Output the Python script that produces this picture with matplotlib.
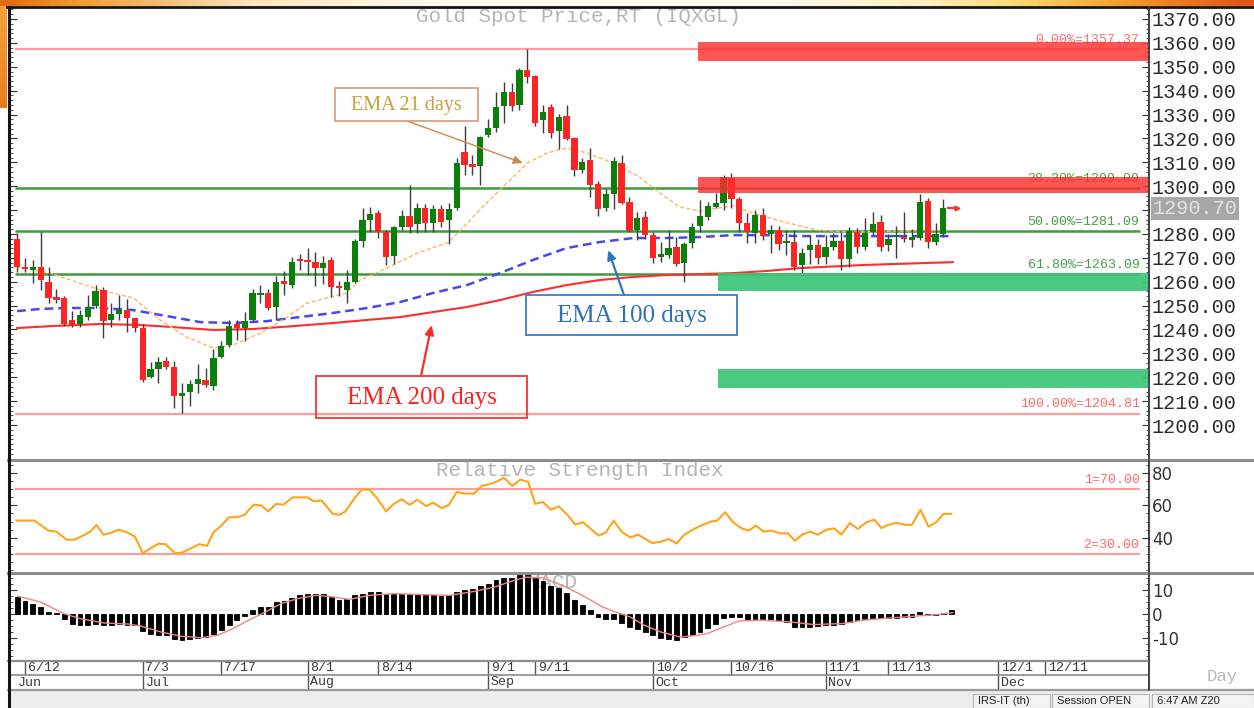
import numpy as np
import matplotlib
matplotlib.use("Agg")
import matplotlib.pyplot as plt
from matplotlib.patches import Rectangle
from matplotlib.lines import Line2D
from matplotlib.colors import LinearSegmentedColormap
from matplotlib import ticker, transforms

plt.rcParams['font.family'] = ['DejaVu Sans']
MONO = 'Liberation Mono'
SERIF = 'Liberation Serif'
SANS = 'Liberation Sans'

# ---------------- data (trading-day index, 6/12 = 0) ----------------
day_index = list(range(-1, 118))
opens = [1278, 1266, 1265, 1266, 1260, 1253.5, 1253.3, 1244, 1242.3, 1245.3,
         1250, 1256.5, 1244, 1246.4, 1248.2, 1244.7, 1240.5, 1220, 1223.4, 1226.8,
         1224.4, 1212, 1214, 1217, 1218.8, 1216.3, 1228.3, 1233.5, 1242.2, 1240.5,
         1243.9, 1254.5, 1255.1, 1249.5, 1260.3, 1258.6, 1269.4, 1268.8, 1268.4, 1265.6,
         1269, 1258.2, 1256.5, 1260, 1277.2, 1286, 1288.6, 1280.7, 1270.8, 1283,
         1287.5, 1284.2, 1291, 1284.4, 1290.3, 1285.8, 1290.7, 1314.4, 1309.3, 1308.4,
         1321.4, 1324.2, 1333.6, 1339.6, 1334, 1348.6, 1346, 1327.7, 1333, 1323.2,
         1329.4, 1320, 1306.8, 1311, 1301, 1290.7, 1296.7, 1309.8, 1293.5, 1281.6,
         1287, 1279.6, 1270.2, 1271.2, 1274.4, 1268, 1276.3, 1283.3, 1287.2, 1291.4,
         1292.8, 1303.3, 1294.5, 1284.4, 1280.3, 1288, 1280, 1281.6, 1276.1, 1276.7,
         1267, 1273.3, 1275.4, 1270.5, 1274.7, 1277, 1269.5, 1281, 1274.7, 1281,
         1284.9, 1275.4, 1278.8, 1278.8, 1277.5, 1278.2, 1293.8, 1276.5, 1279.8]
highs = [1280.4, 1270, 1269, 1281, 1266, 1257, 1254, 1247.7, 1248, 1254.5,
         1258.5, 1258, 1251, 1254.4, 1252.7, 1245, 1242.5, 1226.5, 1228.6, 1228.5,
         1227, 1217.5, 1219, 1225.5, 1224, 1232, 1235, 1244, 1244, 1247.4,
         1257, 1258.6, 1257, 1262.4, 1264.6, 1270.5, 1271.6, 1274, 1272.6, 1270.6,
         1270.2, 1260.3, 1265, 1278, 1291, 1291.4, 1290, 1281.6, 1283.5, 1290,
         1300.5, 1292.8, 1292.5, 1292, 1292, 1293, 1312, 1325.2, 1313, 1321,
         1328, 1339.6, 1343.7, 1343, 1349.4, 1357.37, 1346.5, 1334, 1334.4, 1330.2,
         1334, 1320.5, 1311.7, 1315.8, 1302, 1298.7, 1312.3, 1313, 1295.6, 1289.3,
         1289.6, 1281, 1276.7, 1281.6, 1278.6, 1276.5, 1284.5, 1294.2, 1293.5, 1297,
         1304.5, 1305.6, 1295.3, 1288.6, 1290, 1291, 1283.7, 1283.3, 1281.6, 1281.5,
         1274, 1279.5, 1277.7, 1279.5, 1280.4, 1281, 1283, 1282.5, 1286.5, 1289.3,
         1288, 1280, 1283.4, 1289, 1282, 1296.6, 1295, 1284.5, 1294.6]
lows = [1264.2, 1264, 1259.5, 1256.5, 1251, 1251, 1241.5, 1241, 1241, 1244,
        1249, 1236.5, 1241, 1244, 1239, 1239, 1218, 1219.5, 1217.6, 1223.5,
        1207, 1205, 1208, 1213.5, 1216, 1214.6, 1228, 1232.8, 1235.6, 1235,
        1243, 1251, 1248, 1244, 1254.4, 1257.2, 1265, 1262.8, 1258.2, 1259,
        1253.5, 1253.9, 1251, 1259.5, 1274.7, 1281, 1278.2, 1267, 1267.5, 1281.6,
        1280.3, 1280.5, 1281, 1281, 1283, 1276, 1290, 1304.7, 1304.7, 1300.5,
        1320.5, 1322.8, 1326.3, 1331.6, 1331.9, 1343, 1325, 1322.4, 1320.3, 1315.4,
        1319.3, 1304.3, 1305.4, 1295.6, 1287.5, 1289.7, 1290.3, 1292.5, 1280.9, 1277.5,
        1278, 1268, 1268.4, 1269.8, 1266.6, 1260, 1274, 1281, 1285.8, 1290.7,
        1290, 1290.7, 1281, 1276.3, 1276.3, 1277.5, 1272, 1273.3, 1271.2, 1265,
        1263.5, 1267.3, 1267.3, 1267.3, 1273.3, 1265, 1266, 1272, 1273.3, 1279.5,
        1273, 1273, 1269.8, 1276.7, 1274.7, 1277.5, 1274.2, 1275.5, 1278.8]
closes = [1266, 1265.5, 1266.3, 1260.7, 1253.3, 1252.5, 1242.5, 1242, 1246, 1249.5,
          1256, 1243.5, 1246.5, 1248.2, 1244.7, 1240.5, 1219, 1223.5, 1226.5, 1224.4,
          1212, 1213.3, 1217, 1219.3, 1216.7, 1228, 1233.2, 1241.4, 1240.5, 1243.7,
          1255.1, 1255, 1248.8, 1260, 1258.9, 1268.4, 1268.8, 1268.3, 1265.6, 1267.7,
          1257.9, 1257.3, 1260, 1277.2, 1285.8, 1288.3, 1281, 1270.5, 1282.8, 1287.5,
          1283, 1290.7, 1284.4, 1290.3, 1285.1, 1290.3, 1309.6, 1309, 1308.2, 1320.4,
          1324.2, 1333.3, 1339.6, 1333.6, 1348.6, 1345.8, 1326.6, 1331.2, 1322.1, 1329.1,
          1319.6, 1306.8, 1310.2, 1300.5, 1290.3, 1296.7, 1310.7, 1292.8, 1281.4, 1286.5,
          1279.6, 1269.8, 1271.6, 1274, 1267.4, 1275.8, 1283, 1287.5, 1291.5, 1293.1,
          1304, 1294.5, 1284.7, 1281, 1288, 1279.1, 1281.6, 1275.8, 1277.2, 1266,
          1272, 1275.4, 1270.1, 1274.7, 1277, 1269.5, 1281.2, 1274.7, 1280.3, 1284,
          1274.7, 1277.9, 1279.5, 1277.9, 1278.8, 1293.5, 1276.5, 1279.8, 1290.7]
last_price = 1290.70

ema21_x = [-1, 3.2, 9.6, 13.8, 17.2, 20.6, 24.0, 26.5, 30.0, 33.4, 35.9, 38.9, 41.0, 42.7,
           45.6, 50.0, 54.0, 58.3, 61.8, 64.0, 66.5, 69.0, 71.6, 74.9, 78.3, 80.9, 83.4,
           86.0, 88.5, 90.2, 92.7, 95.8, 100.9, 105.0, 117.8]
ema21_y = [1266.1, 1263.6, 1256.5, 1253.2, 1244.0, 1236.8, 1232.2, 1233.5, 1238.5, 1245.2,
           1251.0, 1253.6, 1255.3, 1260.7, 1264.9, 1272.0, 1276.6, 1291.3, 1302.6, 1309.7,
           1313.9, 1316.0, 1313.9, 1309.7, 1303.8, 1297.1, 1291.3, 1289.6, 1290.9, 1291.7,
           1288.8, 1285.8, 1281.6, 1280.8, 1281.6]
ema100_x = [-1, 1.9, 5.4, 9.6, 13.8, 18.1, 22.3, 26.5, 30.8, 35.0, 39.2, 43.6, 47.8, 52.0,
            56.3, 60.5, 64.7, 69.0, 73.2, 77.5, 81.8, 86.0, 90.2, 94.5, 98.7, 117.8]
ema100_y = [1247.7, 1248.6, 1249.0, 1249.0, 1248.1, 1245.6, 1243.1, 1242.7, 1243.5, 1245.2,
            1246.9, 1249.0, 1251.5, 1255.3, 1258.6, 1263.6, 1269.1, 1274.1, 1276.6, 1278.3,
            1278.3, 1278.7, 1279.5, 1279.5, 1279.1, 1279.1]
ema200_x = [-1, 3.2, 9.6, 14.6, 18.9, 24.0, 29.0, 34.1, 39.2, 43.6, 47.8, 52.0, 56.3, 60.5,
            64.7, 69.0, 73.2, 77.5, 81.8, 86.0, 90.2, 94.5, 98.7, 106.8, 118.2]
ema200_y = [1240.6, 1241.4, 1242.3, 1241.9, 1241.0, 1239.8, 1240.2, 1241.4, 1242.7, 1244.0,
            1245.2, 1247.3, 1249.4, 1252.3, 1255.7, 1258.6, 1260.7, 1262.0, 1262.8, 1263.2,
            1263.6, 1264.5, 1265.7, 1267.0, 1268.2]

fib_levels = [1357.37, 1299.09, 1281.09, 1263.09, 1204.81]
fib_labels = ["0.00%=1357.37", "38.20%=1299.09", "50.00%=1281.09", "61.80%=1263.09", "100.00%=1204.81"]
fib_kind = ["red", "green", "green", "green", "red"]

red_zones = [(1352.6, 1360.3), (1297.1, 1304.0)]
green_zones = [(1256.1, 1263.6), (1215.7, 1223.6)]

rsi_x = [-1.1, 1.2, 3.0, 4.0, 5.3, 6.3, 7.8, 8.3, 9.1, 10.0, 10.9, 11.9, 13.0, 14.0, 15.0, 16.0,
         17.0, 17.9, 19.1, 20.0, 21.1, 22.2, 23.2, 24.0, 25.0, 26.0, 27.0, 28.0, 29.1, 30.1,
         31.0, 32.0, 32.9, 34.1, 36.0, 36.8, 37.8, 39.2, 40.1, 40.8, 42.1, 42.9, 43.9, 44.9,
         46.0, 47.0, 48.0, 49.0, 50.0, 51.1, 52.0, 53.1, 54.0, 55.0, 56.1, 57.2, 58.2, 59.0,
         60.0, 61.0, 62.1, 63.1, 64.1, 65.0, 66.0, 67.0, 68.0, 69.1, 70.1, 71.1, 72.2, 73.1,
         74.0, 75.0, 76.0, 77.1, 78.1, 79.9, 81.0, 82.0, 83.0, 84.0, 85.1, 86.1, 87.4, 88.2,
         89.2, 90.2, 91.3, 92.2, 93.1, 94.1, 95.1, 96.2, 97.2, 98.1, 99.0, 100.0, 101.0, 102.1,
         103.1, 104.0, 105.1, 106.1, 107.2, 108.2, 109.1, 110.0, 111.0, 112.1, 113.0, 114.1,
         115.1, 116.1, 117.0, 118.0]
rsi_y = [50.6, 50.6, 44.4, 43.8, 38.8, 38.8, 42.3, 43.8, 47.9, 41.9, 42.9, 45.0, 43.3, 40.8,
         30.4, 33.5, 36.3, 36.0, 30.4, 30.8, 33.3, 36.0, 35.0, 43.3, 47.5, 52.7, 52.7, 54.2,
         60.4, 60.0, 56.3, 61.0, 60.4, 65.0, 65.0, 62.5, 63.1, 54.8, 54.2, 56.3, 65.2, 69.8,
         69.8, 64.2, 56.3, 61.0, 63.8, 60.4, 63.5, 59.6, 61.7, 58.3, 60.4, 68.3, 67.3, 67.3,
         72.1, 72.9, 74.6, 77.1, 72.1, 76.0, 74.6, 61.0, 62.1, 57.3, 59.4, 54.2, 48.1, 49.6,
         45.0, 41.3, 43.3, 50.6, 43.8, 40.2, 41.9, 36.7, 37.5, 39.2, 36.5, 41.9, 45.0, 47.5,
         50.0, 50.6, 55.8, 49.6, 45.8, 44.4, 47.5, 43.8, 44.4, 42.7, 42.7, 38.1, 41.9, 43.8,
         41.9, 45.0, 45.8, 41.9, 49.1, 45.4, 49.6, 51.2, 46.0, 48.0, 49.2, 48.0, 48.0, 57.3,
         46.9, 49.6, 54.8, 54.8]
rsi_levels = [70, 30]
rsi_level_labels = ["1=70.00", "2=30.00"]

macd_index = list(range(-1, 119))
macd_hist = [7.1, 5.3, 4.3, 2.9, 0.8, 0.3, -1.9, -4.0, -4.7, -4.7,
             -4.0, -4.7, -4.7, -4.0, -4.4, -4.7, -7.2, -8.2, -8.6, -8.9,
             -10.3, -10.7, -10.6, -10.0, -9.6, -8.2, -6.8, -4.4, -2.6, -1.0,
             1.5, 2.9, 2.9, 5.0, 5.4, 6.7, 7.8, 8.3, 8.3, 8.3,
             7.1, 5.7, 6.1, 7.8, 8.5, 9.2, 9.2, 8.5, 8.5, 8.5,
             8.5, 8.5, 8.5, 8.1, 7.5, 7.8, 9.2, 9.9, 10.6, 11.7,
             12.6, 14.0, 15.1, 15.1, 16.4, 16.4, 15.0, 13.6, 11.7, 10.8,
             8.75, 5.7, 3.6, 1.5, -1.25, -1.9, -1.9, -3.6, -5.4, -6.4,
             -7.5, -8.9, -10.0, -10.3, -10.7, -9.6, -8.9, -7.5, -5.8, -4.0,
             -1.7, -1.25, -1.25, -2.2, -2.2, -2.2, -2.2, -2.6, -3.3, -5.4,
             -5.4, -5.4, -5.0, -4.7, -4.4, -4.0, -3.3, -2.6, -1.9, -1.5,
             -1.5, -1.5, -1.5, -1.25, -1.1, 0.8, -0.3, -0.3, 0.6, 1.5]
signal_x = [-0.9, 2.0, 5.0, 7.0, 10.1, 13.2, 14.7, 17.3, 19.9, 22.4, 24.5, 26.5, 28.5, 30.6,
            32.6, 34.7, 37.2, 39.3, 41.3, 43.9, 47.0, 50.6, 54.1, 57.2, 59.8, 62.3, 63.9, 66.0,
            68.5, 71.0, 73.6, 75.6, 77.1, 78.9, 81.0, 83.5, 84.8, 86.9, 89.0, 91.0, 93.8, 97.4,
            100.5, 104.1, 106.7, 111.9, 116.0, 118.2]
signal_y = [7.4, 5.0, 0.1, -1.9, -3.75, -4.2, -5.0, -7.5, -9.3, -9.9, -8.9, -6.1, -2.6, 0.8,
            4.3, 6.4, 7.8, 7.1, 6.1, 7.8, 8.5, 8.1, 7.8, 9.4, 11.25, 14.0, 15.4, 15.0,
            11.9, 7.8, 2.9, 0.4, -1.25, -4.7, -7.5, -9.6, -9.2, -8.2, -5.4, -2.9, -2.6, -3.3,
            -4.4, -4.0, -2.6, -1.25, -0.3, 0.6]

date_ticks = [0, 15, 25, 36, 45, 59, 65, 80, 90, 102, 110, 124, 130]
date_labels = ["6/12", "7/3", "7/17", "8/1", "8/14", "9/1", "9/11", "10/2", "10/16",
               "11/1", "11/13", "12/1", "12/11"]
month_ticks = [-1.2, 15, 36, 59, 80, 102, 124]
month_labels = ["Jun", "Jul", "Aug", "Sep", "Oct", "Nov", "Dec"]

price_ticks = list(range(1200, 1371, 10))

# ---------------- layout helpers ----------------
W, H = 1254, 708
fig = plt.figure(figsize=(W / 100, H / 100), dpi=100, facecolor='white')


def fx(x):
    return x / W


def fy(y):
    return 1 - y / H


def add_ax(x0, y0, x1, y1):
    return fig.add_axes([fx(x0), fy(y1), fx(x1) - fx(x0), fy(y0) - fy(y1)])


XLIM = (-1.91, 143.2)
ax = add_ax(10, 8, 1149, 458)
ax_rsi = add_ax(10, 461, 1149, 571)
ax_macd = add_ax(10, 574, 1149, 660)
ax_date = add_ax(10, 660, 1149, 690)

for a in (ax, ax_rsi, ax_macd, ax_date):
    a.set_xlim(*XLIM)
    a.set_xticks([])
    for s in ('top', 'bottom', 'left'):
        a.spines[s].set_visible(False)
    a.spines['right'].set_color('#404040')
    a.spines['right'].set_linewidth(1.2)
    a.set_facecolor('white')

# ---------------- main price panel ----------------
ax.set_ylim(1186.2, 1374.6)
ax.set_yticks(price_ticks)
ax.set_yticklabels(['' if v == 1290 else f"{v:.2f}" for v in price_ticks])
ax.yaxis.set_minor_locator(ticker.MultipleLocator(2))
ax.tick_params(axis='y', which='both', direction='in', left=True, right=True,
               labelleft=False, labelright=True, colors='#333333', pad=2)
ax.tick_params(axis='y', which='major', length=5)
ax.tick_params(axis='y', which='minor', length=2.5)
for lab in ax.get_yticklabels():
    lab.set_family(MONO)
    lab.set_fontsize(14.5)
    lab.set_color('#2b2b2b')

# fib lines
for lvl, lbl, kind in zip(fib_levels, fib_labels, fib_kind):
    col = '#ff9c9c' if kind == 'red' else '#3e9a3e'
    tcol = '#ff6a6a' if kind == 'red' else '#4a9e4a'
    ax.hlines(lvl, -1.3, 142.0, color=col, lw=1.6 if kind == 'red' else 1.8, zorder=2)
    ax.annotate(lbl, xy=(142.0, lvl), xytext=(0, 2.2), textcoords='offset points',
                ha='right', va='bottom', family=MONO, fontsize=9.5, color=tcol, zorder=2)

# EMA lines
ax.plot(ema200_x, ema200_y, color='#ff2d2d', lw=1.5, zorder=2)
ax.plot(ema100_x, ema100_y, color='#4848f0', lw=1.8, dashes=(3.5, 2), zorder=2)
ax.plot(ema21_x, ema21_y, color='#fcb868', lw=1.0, dashes=(3, 1.6), zorder=2)

# candles
o = np.array(opens); h = np.array(highs); l = np.array(lows); c = np.array(closes)
xi = np.array(day_index)
ax.vlines(xi, l, h, color='#3c3c3c', lw=1.0, zorder=3)
up = c >= o
body_bottom = np.minimum(o, c)
body_h = np.maximum(np.abs(c - o), 0.6)
ax.bar(xi, body_h, bottom=body_bottom, width=0.8,
       color=np.where(up, '#0a7f0a', '#ff2424'), linewidth=0, zorder=4)

# last price marker
ax.plot([117.6, 118.5], [last_price, last_price], color='#ff3030', lw=1.6, zorder=4)
ax.plot([118.7], [last_price], marker='>', ms=3.5, color='#ff3030', zorder=4)
trans = transforms.blended_transform_factory(ax.transAxes, ax.transData)
ax.text(1.0 + 4 / 1139, last_price, f"{last_price:.2f}", transform=trans, ha='left', va='center',
        family=MONO, fontsize=14.5, color='#e4e4e4', clip_on=False,
        bbox=dict(boxstyle='square,pad=0.08', fc='#a7a7a7', ec='none'))

# supply / demand zones
for lo_, hi_ in red_zones:
    ax.add_patch(Rectangle((85.7, lo_), XLIM[1] - 85.7, hi_ - lo_, fc='#ff2f2f', ec='none',
                           alpha=0.82, zorder=5))
for lo_, hi_ in green_zones:
    ax.add_patch(Rectangle((88.3, lo_), XLIM[1] - 88.3, hi_ - lo_, fc='#3cc477', ec='none',
                           alpha=0.92, zorder=5))

# ---------------- RSI panel ----------------
ax_rsi.set_ylim(19.4, 87.5)
ax_rsi.set_yticks([40, 60, 80])
ax_rsi.yaxis.set_minor_locator(ticker.MultipleLocator(5))
ax_rsi.tick_params(axis='y', which='both', direction='in', left=True, right=True,
                   labelleft=False, labelright=True, colors='#333333', pad=2, labelsize=12)
ax_rsi.tick_params(axis='y', which='major', length=5)
ax_rsi.tick_params(axis='y', which='minor', length=2.5)
for lvl, lbl in zip(rsi_levels, rsi_level_labels):
    ax_rsi.hlines(lvl, -1.3, 142.0, color='#ff9c9c', lw=1.5, zorder=2)
    ax_rsi.annotate(lbl, xy=(142.0, lvl), xytext=(0, 2.2), textcoords='offset points',
                    ha='right', va='bottom', family=MONO, fontsize=9.5, color='#ff6a6a')
ax_rsi.plot(rsi_x, rsi_y, color='#ffa31a', lw=1.5, zorder=3)
ax_rsi.text(0.5, 0.915, 'Relative Strength Index', transform=ax_rsi.transAxes, ha='center',
            va='center', family=MONO, fontsize=15, color='#b4b4b4', zorder=1)

# ---------------- MACD panel ----------------
ax_macd.set_ylim(-19.2, 16.7)
ax_macd.set_yticks([-10, 0, 10])
ax_macd.set_yticklabels(['-10', '0', '10'])
ax_macd.yaxis.set_minor_locator(ticker.MultipleLocator(2.5))
ax_macd.tick_params(axis='y', which='both', direction='in', left=True, right=True,
                    labelleft=False, labelright=True, colors='#333333', pad=2, labelsize=12)
ax_macd.tick_params(axis='y', which='major', length=5)
ax_macd.tick_params(axis='y', which='minor', length=2.5)
ax_macd.text(fx(553 - 10) / (fx(1149) - fx(10)), 0.9, 'MACD', transform=ax_macd.transAxes,
             ha='center', va='center', family=MONO, fontsize=15, color='#b4b4b4', zorder=1)
ax_macd.bar(macd_index, macd_hist, width=0.62, color='black', edgecolor='black',
            linewidth=0.6, zorder=2)
ax_macd.plot(signal_x, signal_y, color='#f28484', lw=1.0, zorder=3)

# ---------------- date axis ----------------
ax_date.set_ylim(0, 30)
ax_date.set_yticks([])
ax_date.vlines(date_ticks, 15, 30, color='#555555', lw=1.0)
ax_date.vlines(month_ticks[1:], 0, 15, color='#555555', lw=1.0)
for t, lbl in zip(date_ticks, date_labels):
    ax_date.text(t + 0.35, 22.0, lbl, ha='left', va='center', family=MONO, fontsize=9.5,
                 color='#3a3a3a')
for t, lbl in zip(month_ticks, month_labels):
    ax_date.text(t + 0.35, 7.5, lbl, ha='left', va='center', family=MONO, fontsize=9.5,
                 color='#3a3a3a')
ax_date.hlines(15, *XLIM, color='#8a8a8a', lw=1.2)

# ---------------- figure decorations ----------------
def fline(x0, y0, x1, y1, color, lw, z=20):
    fig.add_artist(Line2D([fx(x0), fx(x1)], [fy(y0), fy(y1)], transform=fig.transFigure,
                          color=color, lw=lw, zorder=z))


# title
fig.text(fx(578), fy(16), 'Gold Spot Price,RT (IQXGL)', ha='center', va='center',
         family=MONO, fontsize=15, color='#b5b5b5')

# panel separators
fline(8, 459.5, 1254, 459.5, '#8e8e8e', 2.2)
fline(8, 572.5, 1254, 572.5, '#8e8e8e', 2.2)
fline(8, 660.5, 1149, 660.5, '#8e8e8e', 1.6)
fline(8, 689.5, 1254, 689.5, '#9a9a9a', 1.6)
fig.text(fx(1222), fy(676), 'Day', ha='center', va='center', family=MONO, fontsize=12.5,
         color='#b8b8b8')

# status bar
fig.add_artist(Rectangle((fx(8), 0), 1 - fx(8), fy(690.5), transform=fig.transFigure,
                         fc='#ededed', ec='none', zorder=15))
for x0, x1, txt in [(973, 1050, 'IRS-IT (th)'), (1052, 1149, 'Session OPEN'),
                    (1152, 1254, '6:47 AM Z20')]:
    fig.add_artist(Rectangle((fx(x0), fy(708)), fx(x1) - fx(x0), fy(694) - fy(708),
                             transform=fig.transFigure, fc='#f3f3f3', ec='#b5b5b5', lw=0.8,
                             zorder=16))
    fig.text(fx(x0 + 5), fy(701), txt, ha='left', va='center', family=SANS, fontsize=8,
             color='#222222', zorder=17)

# top gradient strip and left ornament
top_cmap = LinearSegmentedColormap.from_list(
    'top', [(0.0, '#e26a12'), (0.06, '#f39a32'), (0.2, '#fce6c0'), (0.35, '#fffaf0'),
            (0.62, '#fffaf0'), (0.74, '#fdf0bd'), (0.82, '#fbd66e'), (0.9, '#f49a2c'),
            (1.0, '#df5418')])
ax_top = fig.add_axes([0, fy(6), 1, 6 / H])
ax_top.imshow(np.linspace(0, 1, 400)[None, :], aspect='auto', cmap=top_cmap,
              extent=(0, 1, 0, 1))
ax_top.set_axis_off()
left_cmap = LinearSegmentedColormap.from_list('left', ['#f7a23a', '#ea7d1c'])
ax_left = fig.add_axes([0, fy(108), fx(7), (108 - 6) / H])
ax_left.imshow(np.linspace(0, 1, 50)[:, None], aspect='auto', cmap=left_cmap,
               extent=(0, 1, 0, 1))
ax_left.set_axis_off()

fline(7, 7, 1254, 7, '#151515', 2.0)
fline(8.5, 7, 8.5, 708, '#151515', 2.2)
fline(1149, 8, 1149, 690, '#404040', 1.2)

# annotation boxes
def box_label(x0, y0, x1, y1, text, ec, tc, fs):
    fig.add_artist(Rectangle((fx(x0), fy(y1)), fx(x1) - fx(x0), fy(y0) - fy(y1),
                             transform=fig.transFigure, fill=False, ec=ec, lw=1.3, zorder=12))
    fig.text(fx((x0 + x1) / 2), fy((y0 + y1) / 2 + 1), text, ha='center', va='center',
             family=SERIF, fontsize=fs, color=tc, zorder=12)


box_label(335, 88, 478, 121, 'EMA 21 days', '#dba27e', '#c9a03a', 14.5)
box_label(526, 295, 737, 335, 'EMA 100 days', '#3d7cc6', '#2e70b6', 18)
box_label(316, 376, 527, 418, 'EMA 200 days', '#ff3030', '#ff2020', 18)

arrow_specs = [((407, 121), (63.4, 1309.7), '#cf8750', 1.0),
               ((624, 295), (74.3, 1273.3), '#2f78c0', 1.6),
               ((421, 376), (51.8, 1241.9), '#ff2a2a', 1.6)]
for (px, py), (dx, dy), col, lw in arrow_specs:
    ax.annotate('', xy=(dx, dy), xycoords='data', xytext=(fx(px), fy(py)),
                textcoords='figure fraction', annotation_clip=False,
                arrowprops=dict(arrowstyle='-|>,head_length=0.55,head_width=0.25', color=col,
                                lw=lw, shrinkA=0, shrinkB=0), zorder=12)

fig.savefig('out.png', dpi=100, facecolor='white')
